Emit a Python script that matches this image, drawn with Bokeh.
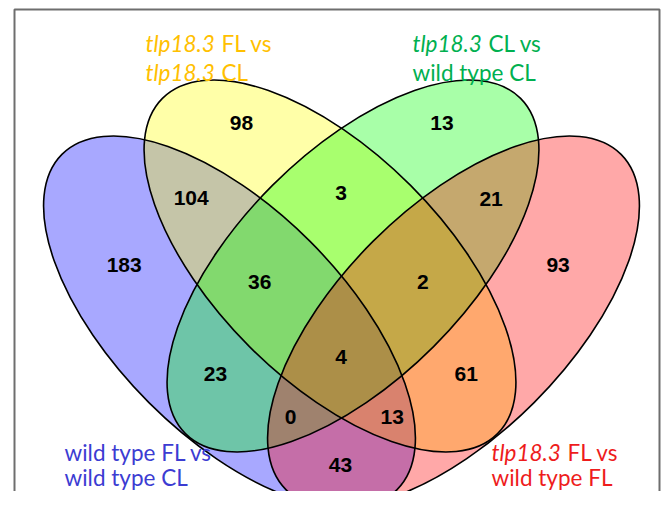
from bokeh.plotting import figure
from bokeh.models import Range1d, ColumnDataSource
from bokeh.core.properties import value
from bokeh.embed import file_html
from bokeh.resources import INLINE

# ---------------- data ----------------
set_names = ["wild type FL vs wild type CL", "tlp18.3 FL vs tlp18.3 CL",
             "tlp18.3 CL vs wild type CL", "tlp18.3 FL vs wild type FL"]
set_colors = ["#0000ff", "#ffff00", "#00ff00", "#ff0000"]
region_names = ["A", "B", "C", "D", "AB", "BC", "CD", "ABC", "BCD", "ABCD",
                "AC", "BD", "ACD", "ABD", "AD"]
region_counts = [183, 98, 13, 93, 104, 3, 21, 36, 2, 4, 23, 61, 0, 13, 43]

# ---------------- layout (reference pixels, y measured downward) ----------------
PLOT_W = 661
PLOT_H = 491
REF_H = 507
count_x = [123.7, 241, 441.5, 557.6, 190.7, 340.5, 490.6, 259.3, 422.3, 340.7,
           215, 465.7, 290, 391.7, 340]
count_y = [264.3, 122.3, 122.7, 264.3, 197.7, 192.7, 198.3, 281, 281, 356.7,
           373.3, 373.3, 416, 416, 464.3]
ell_cx = [229, 329.5, 352.5, 453]
ell_cy = [321.5, 265.5, 265.5, 321.5]
ell_angle = [-45, -45, 45, 45]
ELL_W = 474
ELL_H = 228

# set titles: italic part, regular part, x, baseline y, colour
title_italic = ["tlp18.3", "tlp18.3", "tlp18.3", "", "", "", "tlp18.3", ""]
title_regular = ["FL vs", "CL", "CL vs", "wild type CL",
                 "wild type FL vs", "wild type CL", "FL vs", "wild type FL"]
title_x = [145, 145, 412, 412, 64, 64, 491, 491]
title_y = [43, 72, 43, 72, 452, 477, 452, 477]
title_color = ["#ffc000", "#ffc000", "#00b050", "#00b050",
               "#3c3cd2", "#3c3cd2", "#ee1c1c", "#ee1c1c"]
ITALIC_OFFSET = 76


def up(v):
    return REF_H - v


p = figure(width=PLOT_W, height=PLOT_H, output_backend="svg", toolbar_location=None,
           x_range=Range1d(0, PLOT_W), y_range=Range1d(up(PLOT_H), up(0)),
           min_border=0)
p.axis.visible = False
p.grid.visible = False
p.outline_line_color = None
p.background_fill_color = "white"

# frame
p.quad(left=[14], right=[659], top=[up(9)], bottom=[up(540)],
       fill_color=None, line_color="#6e6e6e", line_width=2)

src = ColumnDataSource(dict(x=ell_cx, y=[up(v) for v in ell_cy],
                            angle=ell_angle, color=set_colors, name=set_names))
p.ellipse(x="x", y="y", width=ELL_W, height=ELL_H, angle="angle",
          angle_units="deg", fill_color="color", fill_alpha=0.34,
          line_color=None, source=src)
p.ellipse(x="x", y="y", width=ELL_W, height=ELL_H, angle="angle",
          angle_units="deg", fill_color=None, line_color="black",
          line_width=1.6, source=src)

p.text(x=count_x, y=[up(v) for v in count_y], text=[str(c) for c in region_counts],
       text_font=value("Liberation Sans"), text_font_style="bold",
       text_font_size="21px", text_color="black", text_align="center",
       text_baseline="middle")

it_idx = [i for i, t in enumerate(title_italic) if t]
p.text(x=[title_x[i] for i in it_idx], y=[up(title_y[i]) for i in it_idx],
       text=[title_italic[i] for i in it_idx],
       text_color=[title_color[i] for i in it_idx],
       text_font=value("Lato"), text_font_style="italic",
       text_font_size="22.5px", text_align="left", text_baseline="alphabetic")
p.text(x=[title_x[i] + (ITALIC_OFFSET if title_italic[i] else 0) for i in range(len(title_x))],
       y=[up(v) for v in title_y], text=title_regular, text_color=title_color,
       text_font=value("Lato"), text_font_size="22.5px",
       text_align="left", text_baseline="alphabetic")

open("out.html", "w").write(file_html(p, INLINE))
